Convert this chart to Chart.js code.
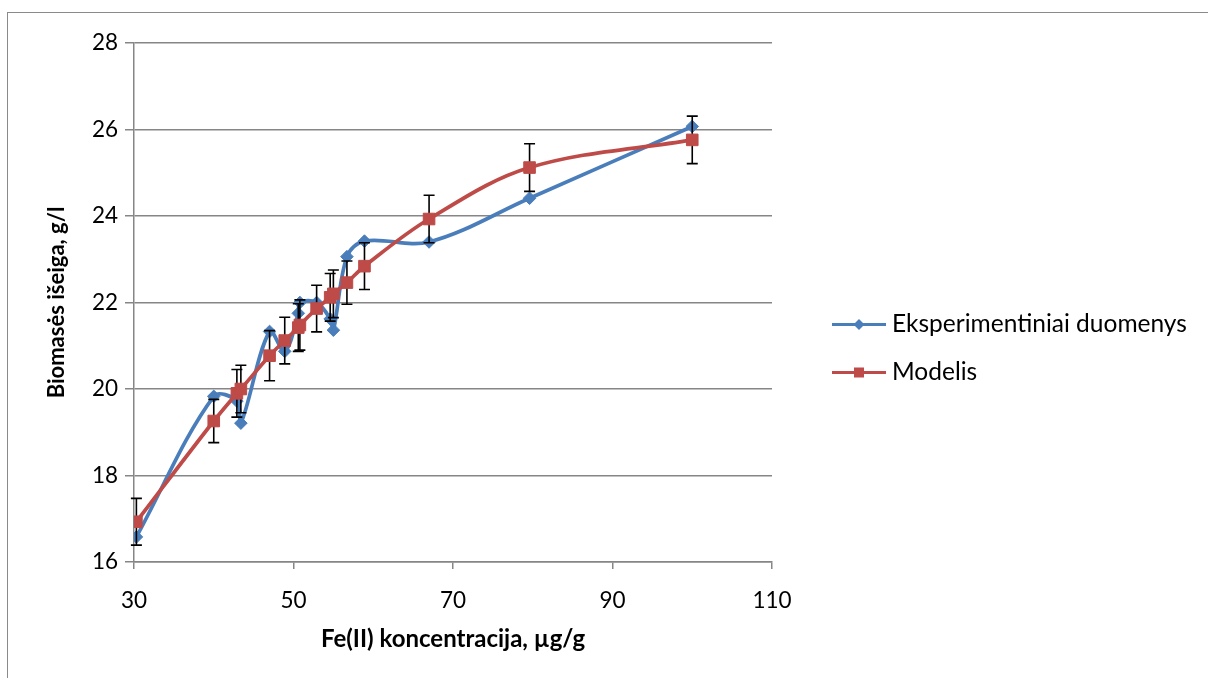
<!DOCTYPE html>
<html>
<head>
<meta charset="utf-8">
<script src="https://cdn.jsdelivr.net/npm/chart.js@4.4.0/dist/chart.umd.min.js"></script>
<style>
  html, body { margin: 0; padding: 0; background: #fff; }
  #wrap { position: relative; width: 1208px; height: 678px; overflow: hidden; }
  #frame { position: absolute; left: 7px; top: 12px; width: 1300px; height: 800px; border: 1.5px solid #8a8a8a; }
  canvas { position: absolute; left: 0; top: 0; }
</style>
</head>
<body>
<div id="wrap">
  <div id="frame"></div>
  <canvas id="chart" width="1208" height="678"></canvas>
</div>
<script>
'use strict';
// Fe(II) concentration, ug/g
const feConc = [30.3, 40, 42.9, 43.4, 47, 48.9, 50.6, 50.8, 52.9, 54.6, 55, 56.7, 58.9, 67, 79.6, 100];
// biomass yield, g/l
const measured = [16.58, 19.83, 19.72, 19.21, 21.33, 20.87, 21.75, 22.0, 22.0, 21.62, 21.36, 23.06, 23.42, 23.40, 24.41, 26.07];
const model = [16.93, 19.26, 19.90, 20.0, 20.77, 21.12, 21.42, 21.48, 21.86, 22.12, 22.2, 22.46, 22.84, 23.93, 25.12, 25.76];
const modelErr = [0.54, 0.5, 0.55, 0.55, 0.58, 0.54, 0.55, 0.58, 0.54, 0.55, 0.55, 0.5, 0.54, 0.55, 0.55, 0.55];

const seriesNames = ['Eksperimentiniai duomenys', 'Modelis'];
const xTitle = 'Fe(II) koncentracija, µg/g';
const yTitle = 'Biomasės išeiga, g/l';

const FONT = 'Lato, "Open Sans", sans-serif';
const GRID = '#868686';
const BLUE = '#4A7EBB';
const RED = '#BE4B48';

function toPoints(ys) {
  return feConc.map((x, i) => ({ x: x, y: ys[i] }));
}

// error bars for the model series, drawn right after the measured line
const errorBars = {
  id: 'errorBars',
  afterDatasetDraw(chart, args) {
    if (args.index !== 0) return;
    const { ctx, scales } = chart;
    ctx.save();
    ctx.strokeStyle = '#000';
    ctx.lineWidth = 1.6;
    feConc.forEach((x, i) => {
      const px = scales.x.getPixelForValue(x);
      const top = scales.y.getPixelForValue(model[i] + modelErr[i]);
      const bot = scales.y.getPixelForValue(model[i] - modelErr[i]);
      ctx.beginPath();
      ctx.moveTo(px, top); ctx.lineTo(px, bot);
      ctx.moveTo(px - 5.5, top); ctx.lineTo(px + 5.5, top);
      ctx.moveTo(px - 5.5, bot); ctx.lineTo(px + 5.5, bot);
      ctx.stroke();
    });
    ctx.restore();
  }
};

// legend to the right of the plot: short line with the marker in the middle
const sideLegend = {
  id: 'sideLegend',
  afterDraw(chart) {
    const { ctx, chartArea } = chart;
    const x0 = chartArea.right + 60;
    const midY = (chartArea.top + chartArea.bottom) / 2 + 46;
    chart.data.datasets.forEach((ds, i) => {
      const y = midY - 24 + i * 48;
      const cx = x0 + 27;
      ctx.save();
      ctx.strokeStyle = ds.borderColor;
      ctx.lineWidth = 3;
      ctx.beginPath();
      ctx.moveTo(x0, y); ctx.lineTo(x0 + 54, y);
      ctx.stroke();
      ctx.fillStyle = ds.pointBackgroundColor;
      ctx.beginPath();
      if (ds.pointStyle === 'rectRot') {
        ctx.moveTo(cx - 5.5, y); ctx.lineTo(cx, y - 5.5);
        ctx.lineTo(cx + 5.5, y); ctx.lineTo(cx, y + 5.5);
      } else {
        ctx.rect(cx - 5, y - 5, 10, 10);
      }
      ctx.closePath();
      ctx.fill();
      ctx.fillStyle = '#000';
      ctx.font = '24.5px ' + FONT;
      ctx.textBaseline = 'middle';
      ctx.fillText(ds.label, x0 + 60, y);
      ctx.restore();
    });
  }
};

const data = {
  datasets: [{
    label: seriesNames[0],
    data: toPoints(measured),
    borderColor: BLUE,
    pointBackgroundColor: BLUE,
    pointBorderColor: BLUE,
    pointStyle: 'rectRot',
    pointRadius: 6.3,
    pointBorderWidth: 1,
    order: 1
  }, {
    label: seriesNames[1],
    data: toPoints(model),
    borderColor: RED,
    pointBackgroundColor: RED,
    pointBorderColor: RED,
    pointStyle: 'rect',
    pointRadius: 8.2,
    pointBorderWidth: 1,
    order: 0
  }]
};

const config = {
  type: 'line',
  data: data,
  options: {
    responsive: false,
    animation: false,
    layout: { padding: { top: 43, right: 436, left: 0, bottom: 0 } },
    elements: { line: { tension: 0.35, borderWidth: 3.7, fill: false } },
    plugins: {
      legend: { display: false },
      tooltip: { enabled: false }
    },
    scales: {
      x: {
        type: 'linear',
        min: 30,
        max: 110,
        ticks: { stepSize: 20, padding: 18, color: '#000', font: { family: FONT, size: 22.5 } },
        grid: { drawOnChartArea: false, drawTicks: true, tickLength: 7, color: GRID, lineWidth: 1.5 },
        border: { color: GRID, width: 1.5 },
        title: {
          display: true, text: xTitle, color: '#000',
          font: { family: FONT, size: 24, weight: 'bold' },
          padding: { top: 0, bottom: 24 }
        },
        afterFit(scale) { scale.height = 116; }
      },
      y: {
        min: 16,
        max: 28,
        ticks: { stepSize: 2, padding: 7, color: '#000', font: { family: FONT, size: 22.5 } },
        grid: { color: GRID, lineWidth: 1.5, tickLength: 9 },
        border: { color: GRID, width: 1.5 },
        title: {
          display: true, text: yTitle, color: '#000',
          font: { family: FONT, size: 22, weight: 'bold' },
          padding: { top: 44, bottom: 0 }
        },
        afterFit(scale) { scale.width = 134; }
      }
    }
  },
  plugins: [errorBars, sideLegend]
};

const canvasElem = document.getElementById('chart');
const myChart = new Chart(canvasElem, config);
</script>
</body>
</html>
